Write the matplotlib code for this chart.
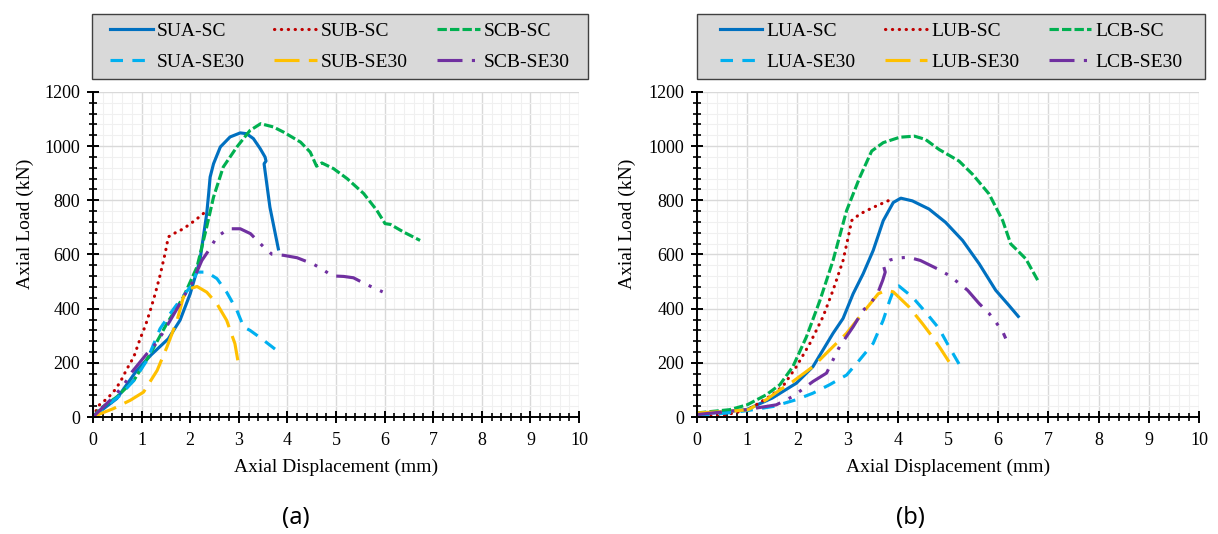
import matplotlib
matplotlib.use("Agg")
import matplotlib.pyplot as plt
from matplotlib.patches import Rectangle
from matplotlib.lines import Line2D
from matplotlib.ticker import MultipleLocator

# ---------------- data (a) ----------------
SUA_SC_x = [0, 0.25, 0.49, 0.9, 1.2, 1.55, 1.79, 2.0, 2.2, 2.34, 2.38, 2.41, 2.48, 2.62, 2.82, 3.03, 3.16, 3.3, 3.44, 3.54, 3.56, 3.52, 3.64, 3.82]
SUA_SC_y = [0, 35, 68, 172, 230, 289, 357, 455, 578, 751, 825, 886, 935, 997, 1034, 1049, 1046, 1028, 991, 960, 945, 935, 775, 615]

SUB_SC_x = [0, 0.12, 0.29, 0.42, 0.56, 0.7, 0.84, 0.97, 1.08, 1.18, 1.28, 1.38, 1.49, 1.55, 1.66, 1.86, 2.1, 2.31]
SUB_SC_y = [0, 43, 68, 92, 129, 178, 222, 289, 338, 394, 455, 523, 609, 665, 677, 695, 726, 757]

SCB_SC_x = [0, 0.15, 0.49, 0.84, 1.18, 1.52, 1.86, 2.14, 2.34, 2.48, 2.68, 2.96, 3.23, 3.45, 3.71, 3.92, 4.27, 4.47, 4.6, 4.71, 4.95, 5.23, 5.57, 5.84, 6.01, 6.12, 6.39, 6.73]
SCB_SC_y = [0, 31, 74, 135, 234, 345, 443, 554, 702, 812, 923, 997, 1058, 1083, 1071, 1052, 1015, 978, 926, 938, 917, 880, 825, 763, 714, 711, 683, 652]

SUA_SE30_x = [0, 0.29, 0.56, 0.84, 1.11, 1.38, 1.59, 1.79, 2.0, 2.14, 2.34, 2.55, 2.75, 2.96, 3.1, 3.23, 3.47, 3.78]
SUA_SE30_y = [0, 43, 80, 135, 209, 326, 382, 431, 480, 535, 535, 511, 461, 394, 332, 320, 289, 246]

SUB_SE30_x = [0, 0.15, 0.42, 0.77, 1.04, 1.32, 1.52, 1.73, 1.86, 2.0, 2.14, 2.34, 2.55, 2.75, 2.92, 3.01]
SUB_SE30_y = [0, 12, 31, 62, 92, 172, 258, 357, 443, 474, 482, 461, 418, 357, 271, 178]

SCB_SE30_x = [0, 0.42, 0.63, 0.8, 1.11, 1.32, 1.49, 1.73, 1.86, 2.03, 2.24, 2.38, 2.55, 2.79, 3.03, 3.24, 3.51, 3.68, 3.92, 4.2, 4.54, 4.75, 4.92, 5.16, 5.36, 5.53, 5.74, 5.96]
SCB_SE30_y = [0, 74, 117, 166, 234, 277, 326, 400, 443, 492, 578, 615, 665, 695, 695, 677, 628, 601, 597, 588, 564, 542, 521, 519, 514, 498, 480, 462]

# ---------------- data (b) ----------------
LUA_SC_x = [0, 0.5, 1.0, 1.5, 1.98, 2.31, 2.71, 2.91, 3.11, 3.31, 3.51, 3.71, 3.91, 4.06, 4.29, 4.62, 4.95, 5.29, 5.62, 5.95, 6.2, 6.42]
LUA_SC_y = [10, 18, 28, 70, 125, 186, 309, 364, 455, 529, 615, 725, 792, 808, 798, 768, 719, 652, 566, 468, 415, 367]

LUB_SC_x = [0, 0.5, 1.02, 1.45, 1.71, 1.98, 2.25, 2.51, 2.71, 2.91, 3.04, 3.08, 3.24, 3.51, 3.84]
LUB_SC_y = [0, 5, 27, 76, 113, 186, 272, 370, 468, 578, 688, 725, 749, 774, 801]

LCB_SC_x = [0, 0.32, 0.65, 1.0, 1.38, 1.65, 1.91, 2.18, 2.45, 2.71, 2.98, 3.24, 3.48, 3.71, 4.04, 4.33, 4.55, 4.82, 5.22, 5.49, 5.82, 6.09, 6.25, 6.35, 6.55, 6.79]
LCB_SC_y = [15, 21, 27, 45, 82, 119, 186, 296, 431, 578, 762, 884, 982, 1013, 1033, 1037, 1025, 988, 945, 896, 823, 725, 639, 621, 584, 504]

LUA_SE30_x = [0, 0.32, 0.98, 1.52, 1.98, 2.31, 2.64, 2.98, 3.24, 3.51, 3.71, 3.84, 3.94, 4.02, 4.29, 4.55, 4.82, 5.02, 5.25]
LUA_SE30_y = [0, 9, 23, 39, 64, 88, 119, 155, 211, 272, 358, 431, 480, 484, 443, 388, 327, 260, 186]

LUB_SE30_x = [0, 0.65, 1.02, 1.38, 1.65, 1.91, 2.31, 2.64, 2.98, 3.24, 3.48, 3.61, 3.77, 3.91, 4.22, 4.49, 4.69, 4.85, 5.02]
LUB_SE30_y = [15, 21, 27, 64, 100, 131, 186, 247, 309, 370, 425, 455, 468, 462, 407, 345, 296, 253, 204]

LCB_SE30_x = [0, 0.32, 0.65, 0.98, 1.58, 1.91, 2.31, 2.58, 2.84, 3.11, 3.31, 3.48, 3.61, 3.7, 3.75, 3.72, 3.76, 3.85, 4.01, 4.21, 4.45, 4.79, 5.02, 5.19, 5.39, 5.62, 5.82, 5.95, 6.09, 6.15]
LCB_SE30_y = [9, 15, 21, 27, 45, 76, 131, 162, 260, 333, 394, 425, 462, 505, 535, 555, 570, 580, 587, 590, 578, 547, 523, 498, 468, 419, 382, 351, 315, 290]

labels_a = ["SUA-SC", "SUB-SC", "SCB-SC", "SUA-SE30", "SUB-SE30", "SCB-SE30"]
labels_b = ["LUA-SC", "LUB-SC", "LCB-SC", "LUA-SE30", "LUB-SE30", "LCB-SE30"]
x_ticks = list(range(0, 11))
y_ticks = list(range(0, 1201, 200))

series_a = [(SUA_SC_x, SUA_SC_y), (SUB_SC_x, SUB_SC_y), (SCB_SC_x, SCB_SC_y),
            (SUA_SE30_x, SUA_SE30_y), (SUB_SE30_x, SUB_SE30_y), (SCB_SE30_x, SCB_SE30_y)]
series_b = [(LUA_SC_x, LUA_SC_y), (LUB_SC_x, LUB_SC_y), (LCB_SC_x, LCB_SC_y),
            (LUA_SE30_x, LUA_SE30_y), (LUB_SE30_x, LUB_SE30_y), (LCB_SE30_x, LCB_SE30_y)]

LW = 2.25
styles = [
    dict(color="#0070C0", linestyle="-"),
    dict(color="#C00000", linestyle=(0, (0.1, 2.1)), dash_capstyle="round"),
    dict(color="#00B050", linestyle=(0, (3, 1))),
    dict(color="#00B0F0", linestyle=(0, (4, 3))),
    dict(color="#FFC000", linestyle=(0, (8, 3))),
    dict(color="#7030A0", linestyle=(0, (8, 3, 1, 3, 1, 3))),
]

plt.rcParams["font.family"] = ["Liberation Serif", "DejaVu Serif"]
W, H = 1218, 534
fig = plt.figure(figsize=(W / 100, H / 100), dpi=100)


def px(x0, y0, x1, y1):
    return [x0 / W, 1 - y1 / H, (x1 - x0) / W, (y1 - y0) / H]


def make_panel(rect, series, labels, leg_box, tag, tag_x):
    ax = fig.add_axes(rect)
    for (xs, ys), st in zip(series, styles):
        ax.plot(xs, ys, lw=LW, solid_capstyle="butt", **st)
    ax.set_xlim(0, 10)
    ax.set_ylim(0, 1200)
    ax.set_xticks(x_ticks)
    ax.set_yticks(y_ticks)
    ax.xaxis.set_minor_locator(MultipleLocator(0.2))
    ax.yaxis.set_minor_locator(MultipleLocator(40))
    ax.grid(which="major", color="#D9D9D9", lw=1.0)
    ax.grid(which="minor", color="#F0F0F0", lw=0.8)
    ax.set_axisbelow(True)
    for s in ["top", "right"]:
        ax.spines[s].set_visible(False)
    for s in ["left", "bottom"]:
        ax.spines[s].set_linewidth(1.4)
        ax.spines[s].set_color("black")
    ax.tick_params(which="major", direction="inout", length=8, width=1.4, labelsize=13, pad=5)
    ax.tick_params(axis="x", which="major", pad=7)
    ax.tick_params(which="minor", direction="inout", length=5.5, width=1.2)
    ax.set_xlabel("Axial Displacement (mm)", fontsize=14)
    ax.set_ylabel("Axial Load (kN)", fontsize=14)
    ax.yaxis.set_label_coords(-0.122, 0.594)
    ax.xaxis.set_label_coords(0.5, -0.128)

    # legend box
    bx0, by0, bx1, by1 = leg_box
    r = px(bx0, by0, bx1, by1)
    fig.patches.append(Rectangle((r[0], r[1]), r[2], r[3], transform=fig.transFigure,
                                 facecolor="#D9D9D9", edgecolor="#404040", lw=1.0, zorder=0))
    handles = [Line2D([], [], lw=LW, **st) for st in styles]
    order = [0, 3, 1, 4, 2, 5]
    fig.legend([handles[i] for i in order], [labels[i] for i in order], ncol=3,
               loc="center", bbox_to_anchor=(r[0] + r[2] / 2, r[1] + r[3] / 2),
               frameon=False, fontsize=14, handlelength=2.2, handletextpad=0.2,
               columnspacing=1.5, labelspacing=0.7, borderpad=0)
    fig.text(tag_x / W, 1 - 518 / H, tag, fontsize=17, family=["Noto Sans", "DejaVu Sans"],
             ha="center", va="center")
    return ax


make_panel(px(93, 92, 579, 417), series_a, labels_a, (92, 14, 588, 79), "(a)", 296)
make_panel(px(697, 92, 1199, 417), series_b, labels_b, (697, 14, 1205, 79), "(b)", 910)

fig.savefig("out.png", dpi=100)
